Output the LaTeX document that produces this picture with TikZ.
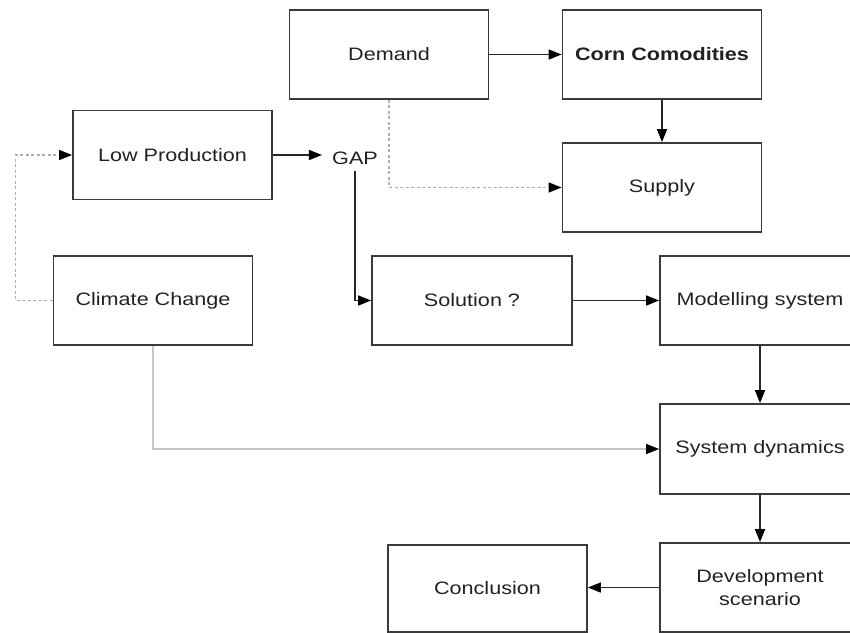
\documentclass[tikz,border=0pt]{standalone}
\usepackage{fontspec}
\setmainfont[FakeStretch=1.2]{Liberation Sans}
\usetikzlibrary{arrows.meta}
\definecolor{boxline}{HTML}{3A3A3A}
\definecolor{txt}{HTML}{222222}
\definecolor{dashgray}{HTML}{AFAFAF}
\definecolor{lightgray2}{HTML}{C6C6C6}
\tikzset{
  box/.style={draw=boxline, line width=1.8pt, minimum width=199pt, minimum height=89pt,
    inner sep=0pt, text=txt, font=\fontsize{18}{23}\selectfont, align=center},
  tip/.style={-{Triangle[length=13pt,width=10pt,color=black]}},
  conn/.style={tip, draw=black!85, line width=1.6pt},
  dashconn/.style={tip, draw=dashgray, line width=1.4pt, dash pattern=on 3pt off 2.5pt},
  faintconn/.style={tip, draw=lightgray2, line width=1.3pt},
}
\begin{document}
\begin{tikzpicture}[x=1pt,y=-1pt]
\useasboundingbox (0,0) rectangle (850,632);
\clip (0,0) rectangle (850,632);
\fill[white] (0,0) rectangle (850,632);
\node[box] (demand) at (389,54.5) {Demand};
\node[box, font=\fontsize{18}{23}\selectfont\bfseries] (corn) at (662,54.5) {Corn Comodities};
\node[box] (supply) at (662,187.5) {Supply};
\node[box] (low) at (172.5,155) {Low Production};
\node[text=txt, font=\fontsize{18}{23}\selectfont, inner xsep=10pt, inner ysep=6pt] (gap) at (355,158) {GAP};
\node[box] (climate) at (153,300.5) {Climate Change};
\node[box, minimum width=200pt] (solution) at (472,300.5) {Solution ?};
\node[box, minimum width=200pt] (model) at (760,300.5) {Modelling system};
\node[box, minimum width=200pt, minimum height=90pt] (sd) at (760,449) {System dynamics};
\node[box, minimum width=200pt] (dev) at (760,587.5) {Development\\scenario};
\node[box, minimum height=87pt] (concl) at (487.5,588.5) {Conclusion};

\draw[conn] (demand.east) -- (corn.west);
\draw[conn] (corn.south) -- (supply.north);
\draw[dashconn] (demand.south) |- (supply.west);
\draw[conn] (low.east) -- (low.east -| gap.west);
\draw[conn] (gap.south) |- (solution.west);
\draw[dashconn] (climate.west) -- ++(-37,0) |- (low.west);
\draw[conn] (solution.east) -- (model.west);
\draw[conn] (model.south) -- (sd.north);
\draw[faintconn] (climate.south) |- (sd.west);
\draw[conn] (sd.south) -- (dev.north);
\draw[conn] (dev.west) -- (dev.west -| concl.east);
\end{tikzpicture}
\end{document}
